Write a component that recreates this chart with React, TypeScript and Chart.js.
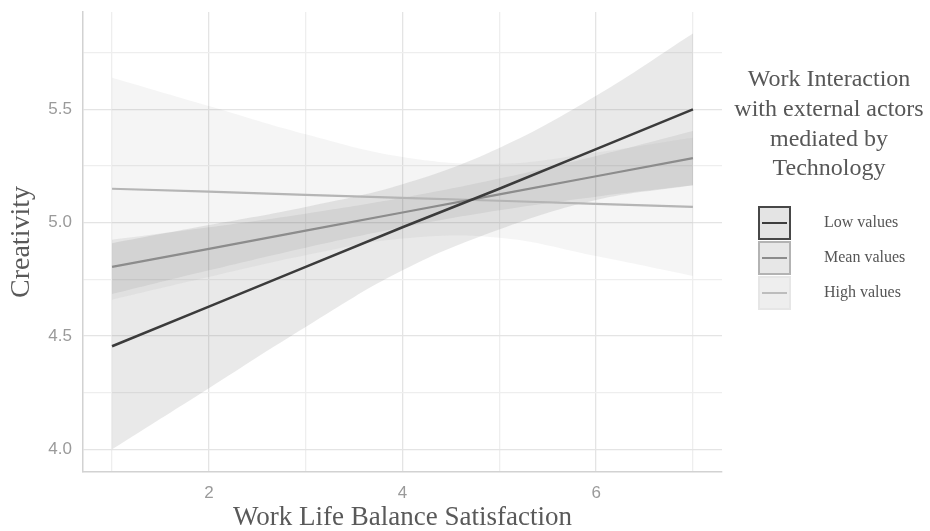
import React, { useEffect, useRef } from "react";
import { Chart, registerables } from "chart.js";

Chart.register(...registerables);

// ---- data ----
const xValues = [1, 2, 3, 4, 5, 6, 7];

const lowLine = [4.455, 4.63, 4.805, 4.98, 5.15, 5.325, 5.5];
const lowUpper = [4.91, 4.99, 5.07, 5.17, 5.33, 5.56, 5.835];
const lowLower = [4.0, 4.27, 4.54, 4.79, 4.97, 5.1, 5.165];

const meanLine = [4.805, 4.885, 4.965, 5.045, 5.125, 5.205, 5.285];
const meanUpper = [4.925, 4.98, 5.04, 5.11, 5.195, 5.295, 5.405];
const meanLower = [4.685, 4.79, 4.89, 4.98, 5.055, 5.115, 5.165];

const highLine = [5.15, 5.137, 5.123, 5.11, 5.097, 5.083, 5.07];
const highUpper = [5.64, 5.515, 5.39, 5.29, 5.26, 5.31, 5.375];
const highLower = [4.66, 4.76, 4.856, 4.93, 4.934, 4.853, 4.765];

const xTicks = [1, 2, 3, 4, 5, 6, 7];
const xTickLabels = ["", "2", "", "4", "", "6", ""];
const yTicks = [4.0, 4.25, 4.5, 4.75, 5.0, 5.25, 5.5, 5.75];
const yTickLabels = ["4.0", "", "4.5", "", "5.0", "", "5.5", ""];

const xTitle = "Work Life Balance Satisfaction";
const yTitle = "Creativity";
const legendTitle = ["Work Interaction", "with external actors", "mediated by", "Technology"];
const seriesNames = ["Low values", "Mean values", "High values"];

const pts = (ys: number[]) => xValues.map((x, i) => ({ x, y: ys[i] }));

const SERIF = '"Liberation Serif", "DejaVu Serif", serif';
const SANS = '"Liberation Sans", Arial, sans-serif';

const legendPlugin = {
  id: "customLegend",
  afterDraw(chart: any) {
    const ctx = chart.ctx as CanvasRenderingContext2D;
    ctx.save();
    ctx.fillStyle = "#575757";
    ctx.font = `24px ${SERIF}`;
    ctx.textAlign = "center";
    ctx.textBaseline = "middle";
    legendTitle.forEach((t, i) => ctx.fillText(t, 829, 80 + i * 29.7));

    const keys = [
      { y: 207, fill: "#e4e4e4", border: "#474747", line: "#3d3d3d" },
      { y: 242, fill: "#e7e7e7", border: "#b3b3b3", line: "#8c8c8c" },
      { y: 277, fill: "#eeeeee", border: "#e6e6e6", line: "#bdbdbd" },
    ];
    keys.forEach((k, i) => {
      ctx.fillStyle = k.fill;
      ctx.fillRect(759, k.y, 31, 32);
      ctx.strokeStyle = k.border;
      ctx.lineWidth = 2;
      ctx.strokeRect(759, k.y, 31, 32);
      ctx.beginPath();
      ctx.strokeStyle = k.line;
      ctx.lineWidth = 2;
      ctx.moveTo(762, k.y + 16);
      ctx.lineTo(787, k.y + 16);
      ctx.stroke();
      ctx.fillStyle = "#555555";
      ctx.font = `16px ${SERIF}`;
      ctx.textAlign = "left";
      ctx.fillText(seriesNames[i], 824, k.y + 16);
    });
    ctx.restore();
  },
};

export default function App() {
  const ref = useRef<HTMLCanvasElement | null>(null);

  useEffect(() => {
    document.body.style.margin = "0";
    if (!ref.current) return;
    const lineDs = (label: string, data: number[], color: string, w: number) => ({
      label,
      data: pts(data),
      borderColor: color,
      borderWidth: w,
      pointRadius: 0,
      fill: false,
      tension: 0,
      order: 0,
    });
    const bandUpper = (data: number[], color: string, target: number) => ({
      label: "band",
      data: pts(data),
      borderWidth: 0,
      borderColor: "rgba(0,0,0,0)",
      backgroundColor: color,
      pointRadius: 0,
      fill: { target },
      tension: 0.4,
      order: 1,
    });
    const bandLower = (data: number[]) => ({
      label: "band",
      data: pts(data),
      borderWidth: 0,
      borderColor: "rgba(0,0,0,0)",
      pointRadius: 0,
      fill: false,
      tension: 0.4,
      order: 1,
    });

    const datasets: any[] = [
      lineDs(seriesNames[0], lowLine, "#3b3b3b", 2.5),
      lineDs(seriesNames[1], meanLine, "#8c8c8c", 2.2),
      lineDs(seriesNames[2], highLine, "#b5b5b5", 2.2),
      bandUpper(lowUpper, "rgba(110,110,110,0.15)", 4),
      bandLower(lowLower),
      bandUpper(meanUpper, "rgba(110,110,110,0.12)", 6),
      bandLower(meanLower),
      bandUpper(highUpper, "rgba(110,110,110,0.07)", 8),
      bandLower(highLower),
    ];

    const chart = new Chart(ref.current, {
      type: "line",
      data: { datasets },
      plugins: [legendPlugin],
      options: {
        animation: false,
        responsive: false,
        layout: { padding: { left: 0, top: 12, right: 208, bottom: 0 } },
        plugins: { legend: { display: false }, tooltip: { enabled: false } },
        scales: {
          x: {
            type: "linear",
            min: 0.7,
            max: 7.3,
            afterBuildTicks: (s: any) => {
              s.ticks = xTicks.map((v) => ({ value: v }));
            },
            afterFit: (s: any) => {
              s.height = 59;
              s.paddingLeft = 0;
              s.paddingRight = 0;
            },
            ticks: {
              autoSkip: false,
              maxRotation: 0,
              padding: 11,
              color: "#9a9a9a",
              font: { family: SANS, size: 17 },
              callback: (_v: any, i: number) => xTickLabels[i],
            },
            grid: {
              drawTicks: false,
              color: (c: any) => (c.tick && c.tick.value % 2 === 0 ? "#e4e4e4" : "#eeeeee"),
              lineWidth: 1.3,
            },
            border: { display: true, color: "#d2d2d2", width: 1.5 },
            title: {
              display: true,
              text: xTitle,
              color: "#595959",
              font: { family: SERIF, size: 27, lineHeight: 1.0 },
              padding: { top: 0, bottom: 0 },
            },
          },
          y: {
            type: "linear",
            min: 3.9,
            max: 5.93,
            afterBuildTicks: (s: any) => {
              s.ticks = yTicks.map((v) => ({ value: v }));
            },
            afterFit: (s: any) => {
              s.width = 83;
              s.paddingTop = 0;
              s.paddingBottom = 0;
            },
            ticks: {
              autoSkip: false,
              padding: 11,
              color: "#9a9a9a",
              font: { family: SANS, size: 17 },
              callback: (_v: any, i: number) => yTickLabels[i],
            },
            grid: {
              drawTicks: false,
              color: (c: any) =>
                c.tick && Math.abs((c.tick.value * 2) % 1) < 1e-6 ? "#e4e4e4" : "#eeeeee",
              lineWidth: 1.3,
            },
            border: { display: true, color: "#d2d2d2", width: 1.5 },
            title: {
              display: true,
              text: yTitle,
              color: "#595959",
              font: { family: SERIF, size: 28, lineHeight: 1.2 },
              padding: { top: 5, bottom: 0 },
            },
          },
        },
      },
    } as any);
    return () => chart.destroy();
  }, []);

  return (
    <div style={{ width: 930, height: 531, position: "relative", background: "#ffffff" }}>
      <canvas ref={ref} width={930} height={531} />
    </div>
  );
}
